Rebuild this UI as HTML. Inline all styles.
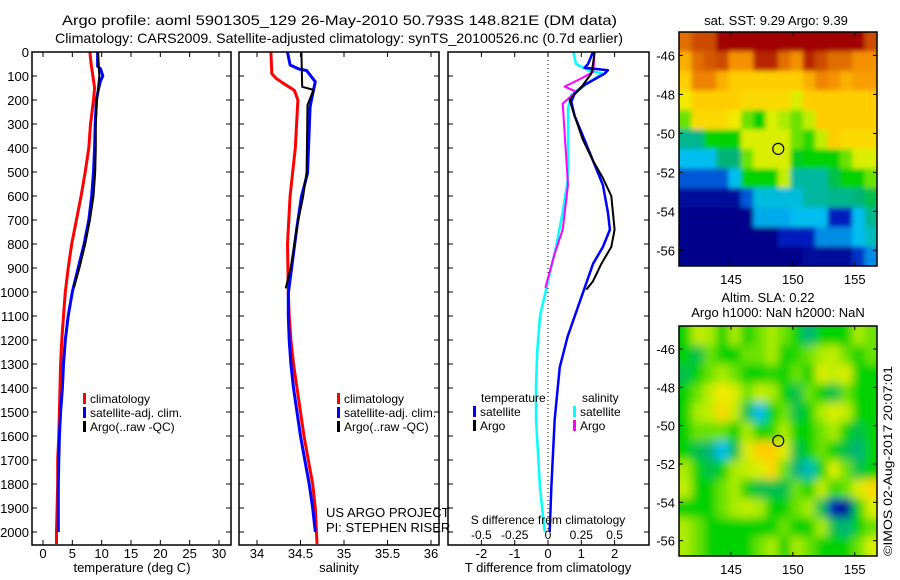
<!DOCTYPE html>
<html><head><meta charset="utf-8"><style>
html,body{margin:0;padding:0;background:#fff}
svg{display:block;font-family:"Liberation Sans",sans-serif}
text{fill:#000}
</style></head><body>
<svg id="fig" width="900" height="580" viewBox="0 0 900 580" xmlns="http://www.w3.org/2000/svg">
<defs>
<filter id="blurA" x="-10%" y="-10%" width="120%" height="120%"><feGaussianBlur stdDeviation="2.5"/></filter>
<filter id="blurB" x="-10%" y="-10%" width="120%" height="120%"><feGaussianBlur stdDeviation="4.5"/></filter>
<clipPath id="clipM1"><rect x="679" y="32" width="198" height="234"/></clipPath>
<clipPath id="clipM2"><rect x="679" y="326" width="198" height="230"/></clipPath>
</defs>
<text x="62" y="25" font-size="14" textLength="555" lengthAdjust="spacingAndGlyphs">Argo profile: aoml 5901305_129 26-May-2010 50.793S 148.821E (DM data)</text>
<text x="55" y="43" font-size="14" textLength="568" lengthAdjust="spacingAndGlyphs">Climatology: CARS2009. Satellite-adjusted climatology: synTS_20100526.nc (0.7d earlier)</text>
<g id="g1"></g>
<g id="g2"></g>
<g id="g3"></g>
<g id="g4"></g>
<g id="g5"></g>
<text transform="translate(892,556) rotate(-90)" font-size="12" textLength="190" lengthAdjust="spacingAndGlyphs">©IMOS 02-Aug-2017 20:07:01</text>
</svg>
<script>
// ---- data ----
const depthTicks=[0,100,200,300,400,500,600,700,800,900,1000,1100,1200,1300,1400,1500,1600,1700,1800,1900,2000];
const tempTicks=[0,5,10,15,20,25,30];
const salTicks=[34,34.5,35,35.5,36];
const salTickLabels=["34","34.5","35","35.5","36"];
const tdiffTicks=[-2,-1,0,1,2];
const sdiffTicks=[-0.5,-0.25,0,0.25,0.5];
const sdiffTickLabels=["-0.5","-0.25","0","0.25","0.5"];
const latTicks=[-46,-48,-50,-52,-54,-56];
const lonTicks=[145,150,155];

const tClimDepth=[0,50,100,150,200,300,400,500,600,700,800,900,1000,1100,1200,1300,1400,1500,1600,1700,1800,1900,2000,2050];
const tClim=[8.0,8.2,8.5,8.8,8.6,8.1,7.8,7.2,6.5,5.7,4.9,4.3,3.8,3.5,3.2,3.0,2.9,2.8,2.7,2.5,2.5,2.4,2.3,2.3];
const tSatDepth=[0,60,70,100,120,150,200,300,400,500,600,700,800,900,1000,1100,1200,1300,1400,1500,1600,1700,1800,1900,2000];
const tSat=[9.3,9.3,9.8,10.2,9.8,9.5,9.1,8.9,8.8,8.6,8.3,7.8,7.0,6.0,5.0,4.3,3.8,3.5,3.3,3.0,2.8,2.7,2.6,2.6,2.6];
const tArgoDepth=[0,100,150,200,300,400,500,600,700,800,900,980];
const tArgo=[9.4,9.6,9.4,9.2,9.0,9.0,8.9,8.6,8.0,7.2,6.2,5.3];

const sClimDepth=[0,90,110,130,160,200,400,600,800,1000,1100,1200,1300,1400,1500,1600,1700,1800,1900,2050];
const sClim=[34.16,34.17,34.22,34.30,34.43,34.47,34.44,34.38,34.35,34.36,34.37,34.39,34.42,34.46,34.50,34.54,34.59,34.64,34.67,34.69];
const sSatDepth=[0,54,71,77,124,158,228,506,603,728,894,1006,1100,1200,1300,1400,1500,1600,1700,1800,1900,2000];
const sSat=[34.35,34.38,34.48,34.57,34.67,34.65,34.61,34.58,34.51,34.46,34.40,34.36,34.36,34.37,34.39,34.42,34.46,34.50,34.55,34.60,34.64,34.67];
const sArgoDepth=[0,145,158,221,500,603,728,894,985];
const sArgo=[34.51,34.52,34.65,34.58,34.57,34.53,34.46,34.39,34.33];

const dTSatDepth=[0,50,66,76,90,137,173,208,266,367,453,554,668,740,812,883,983,1186,1315,1530,1817,2000];
const dTSat=[1.35,1.2,1.1,1.8,1.7,1.1,0.8,0.7,0.8,1.1,1.35,1.65,1.8,1.86,1.65,1.35,1.1,0.59,0.35,0.2,0.1,0.05];
const dTArgoDepth=[0,50,90,137,200,266,367,453,525,600,740,812,883,955,990];
const dTArgo=[1.4,1.35,1.3,1.05,0.65,0.8,1.05,1.35,1.65,1.9,2.0,1.9,1.6,1.35,1.15];
const dSSatDepth=[0,50,75,90,150,180,236,525,668,812,955,1100,1243,1387,1530,1673,1817,2000];
const dSSat=[0.19,0.21,0.3,0.41,0.24,0.175,0.15,0.15,0.11,0.06,0,-0.06,-0.08,-0.09,-0.09,-0.075,-0.06,-0.025];
const dSArgoDepth=[0,83,110,144,165,215,381,554,740,840,983];
const dSArgo=[0.35,0.34,0.25,0.125,0.21,0.11,0.13,0.15,0.11,0.05,-0.02];

const mapLons=[141,142,143,144,145,146,147,148,149,150,151,152,153,154,155,156];
const mapLats=[-45,-46,-47,-48,-49,-50,-51,-52,-53,-54,-55,-56];
const sstGrid=[
[0.85,0.9,0.9,1,1,1,1,1,1,1,1,1,1,1,1,0.9],
[0.75,0.85,0.88,0.9,0.8,0.8,0.95,0.95,0.85,0.8,0.95,0.9,0.85,0.85,0.8,0.8],
[0.7,0.82,0.82,0.75,0.7,0.7,0.7,0.7,0.7,0.7,0.75,0.82,0.8,0.75,0.78,0.78],
[0.65,0.7,0.7,0.7,0.7,0.68,0.68,0.68,0.68,0.62,0.7,0.7,0.7,0.7,0.7,0.7],
[0.55,0.68,0.68,0.68,0.65,0.55,0.5,0.62,0.58,0.55,0.6,0.7,0.7,0.7,0.7,0.7],
[0.4,0.4,0.5,0.5,0.5,0.62,0.62,0.62,0.62,0.55,0.52,0.6,0.7,0.68,0.68,0.68],
[0.3,0.3,0.3,0.42,0.42,0.55,0.62,0.62,0.62,0.48,0.5,0.5,0.5,0.55,0.62,0.62],
[0.2,0.2,0.2,0.2,0.3,0.5,0.5,0.5,0.6,0.38,0.38,0.38,0.45,0.5,0.5,0.55],
[0.05,0.05,0.05,0.05,0.05,0.2,0.32,0.32,0.32,0.32,0.38,0.38,0.4,0.4,0.42,0.45],
[0.02,0.02,0.02,0.02,0.02,0.02,0.28,0.28,0.28,0.3,0.3,0.3,0.12,0.12,0.3,0.4],
[0.02,0.02,0.02,0.02,0.02,0.02,0.02,0.02,0.12,0.12,0.12,0.25,0.25,0.25,0.3,0.35],
[0.02,0.02,0.02,0.02,0.02,0.02,0.02,0.02,0.02,0.02,0.05,0.05,0.05,0.05,0.15,0.25]];
const slaGrid=[
[0.5,0.6,0.58,0.5,0.58,0.5,0.55,0.58,0.55,0.5,0.42,0.5,0.5,0.5,0.58,0.55],
[0.5,0.45,0.55,0.5,0.5,0.55,0.55,0.58,0.5,0.52,0.55,0.58,0.6,0.55,0.5,0.55],
[0.45,0.5,0.55,0.58,0.55,0.5,0.5,0.52,0.5,0.55,0.5,0.62,0.6,0.62,0.5,0.5],
[0.5,0.55,0.6,0.65,0.62,0.55,0.6,0.58,0.5,0.45,0.55,0.5,0.45,0.55,0.5,0.5],
[0.5,0.58,0.6,0.68,0.6,0.45,0.3,0.5,0.55,0.45,0.5,0.58,0.62,0.6,0.5,0.5],
[0.5,0.55,0.55,0.55,0.5,0.58,0.5,0.52,0.58,0.5,0.5,0.55,0.58,0.5,0.45,0.5],
[0.5,0.45,0.42,0.3,0.45,0.62,0.7,0.7,0.62,0.45,0.5,0.55,0.5,0.45,0.42,0.5],
[0.58,0.5,0.45,0.5,0.58,0.6,0.62,0.68,0.55,0.42,0.35,0.5,0.62,0.55,0.45,0.5],
[0.6,0.5,0.5,0.55,0.58,0.5,0.45,0.45,0.45,0.55,0.5,0.6,0.52,0.55,0.62,0.68],
[0.5,0.5,0.5,0.55,0.58,0.6,0.58,0.5,0.5,0.55,0.58,0.45,0.1,0.05,0.5,0.62],
[0.58,0.55,0.5,0.5,0.5,0.5,0.5,0.5,0.55,0.5,0.5,0.58,0.45,0.42,0.5,0.55],
[0.58,0.55,0.5,0.5,0.5,0.5,0.55,0.58,0.5,0.58,0.55,0.5,0.5,0.5,0.55,0.62]];
const argoLon=148.821, argoLat=-50.793;

// ---- helpers ----
const NS="http://www.w3.org/2000/svg";
function mk(parent,tag,attrs){const e=document.createElementNS(NS,tag);for(const k in attrs)e.setAttribute(k,attrs[k]);parent.appendChild(e);return e;}
function lin(d0,d1,r0,r1){return v=>r0+(v-d0)*(r1-r0)/(d1-d0);}
const yD=lin(0,2000,52,532);
const PT=545, PTOP=52;

function frame(g,x0,x1,y0,y1){const r=mk(g,'rect',{x:x0,y:y0,width:x1-x0,height:y1-y0,fill:'none',stroke:'#000','stroke-width':1.5});}
function yTicks(g,x0,x1,labels){depthTicks.forEach(d=>{const y=yD(d);
 mk(g,'line',{x1:x0,x2:x0+5,y1:y,y2:y,stroke:'#000'});mk(g,'line',{x1:x1-5,x2:x1,y1:y,y2:y,stroke:'#000'});
 if(labels){const t=mk(g,'text',{x:x0-3,y:y+5,'font-size':13,'text-anchor':'end'});t.textContent=d;}});}
function xTicks(g,vals,labs,sx,y0,y1,ly){vals.forEach((v,i)=>{const x=sx(v);
 mk(g,'line',{x1:x,x2:x,y1:y1,y2:y1-5,stroke:'#000'});mk(g,'line',{x1:x,x2:x,y1:y0,y2:y0+5,stroke:'#000'});
 if(ly){const t=mk(g,'text',{x:x,y:ly,'font-size':13,'text-anchor':'middle'});t.textContent=labs[i];}});}
function line(g,xs,ds,sx,color,w,name){const p=xs.map((v,i)=>sx(v).toFixed(1)+','+yD(ds[i]).toFixed(1)).join(' ');
 const e=mk(g,'polyline',{points:p,fill:'none',stroke:color,'stroke-width':w,'stroke-linejoin':'round'});}
function txt(g,x,y,s,name,size,anchor){const t=mk(g,'text',{x:x,y:y,'font-size':size||13,'text-anchor':anchor||'start'});t.textContent=s;return t;}
function legend(g,x,y,color,label){const r=mk(g,'rect',{x:x,y:y-10,width:3,height:11,fill:color});txt(g,x+7,y,label,'legend-entry',12);}

// ---- panel 1 ----
(function(){const g=document.getElementById('g1');const sx=lin(0,30,43,219);
 line(g,tClim,tClimDepth,sx,'#ff0000',3,'climatology-temp-line');
 line(g,tSat,tSatDepth,sx,'#0000ff',3,'satellite-temp-line');
 line(g,tArgo,tArgoDepth,sx,'#000',2,'argo-temp-line');
 frame(g,32,231,PTOP,PT);yTicks(g,32,231,true);xTicks(g,tempTicks,tempTicks.map(String),sx,PTOP,PT,558);
 txt(g,132,572,'temperature (deg C)','x-axis-title',13,'middle');
 legend(g,83,403,'#ff0000','climatology');legend(g,83,417,'#0000ff','satellite-adj. clim.');legend(g,83,431,'#000','Argo(..raw -QC)');})();
// ---- panel 2 ----
(function(){const g=document.getElementById('g2');const sx=lin(34,36,257,431);
 line(g,sClim,sClimDepth,sx,'#ff0000',3,'climatology-salinity-line');
 line(g,sSat,sSatDepth,sx,'#0000ff',3,'satellite-salinity-line');
 line(g,sArgo,sArgoDepth,sx,'#000',2,'argo-salinity-line');
 frame(g,239,439,PTOP,PT);yTicks(g,239,439,false);xTicks(g,salTicks,salTickLabels,sx,PTOP,PT,558);
 txt(g,339,572,'salinity','x-axis-title',13,'middle');
 legend(g,337,403,'#ff0000','climatology');legend(g,337,417,'#0000ff','satellite-adj. clim.');legend(g,337,431,'#000','Argo(..raw -QC)');
 txt(g,326,517,'US ARGO PROJECT','credit-project',13);txt(g,326,532,'PI: STEPHEN RISER','credit-pi',13);})();
// ---- panel 3 ----
(function(){const g=document.getElementById('g3');const sx=lin(0,1,548,581.3);const ss=lin(0,0.25,548,581.3);
 const z=mk(g,'line',{x1:548,x2:548,y1:PTOP,y2:530,stroke:'#000','stroke-dasharray':'1,3'});
 line(g,dSSat,dSSatDepth,ss,'#00ffff',2.5,'salinity-satellite-diff-line');
 line(g,dSArgo,dSArgoDepth,ss,'#ff00ff',2,'salinity-argo-diff-line');
 line(g,dTSat,dTSatDepth,sx,'#0000ff',2.5,'temperature-satellite-diff-line');
 line(g,dTArgo,dTArgoDepth,sx,'#000',2,'temperature-argo-diff-line');
 frame(g,448,649,PTOP,PT);yTicks(g,448,649,false);xTicks(g,tdiffTicks,tdiffTicks.map(String),sx,PTOP,PT,558);
 sdiffTicks.forEach((v,i)=>txt(g,ss(v),539,sdiffTickLabels[i],'s-tick-label',12,'middle'));
 txt(g,548,524,'S difference from climatology','s-axis-title',12,'middle');
 txt(g,548,572,'T difference from climatology','x-axis-title',13,'middle');
 txt(g,481,402,'temperature','legend-heading',12);txt(g,582,402,'salinity','legend-heading',12);
 legend(g,473,416,'#0000ff','satellite');legend(g,473,430,'#000','Argo');
 legend(g,573,416,'#00ffff','satellite');legend(g,573,430,'#ff00ff','Argo');})();
// ---- maps ----
const cmapStops=[[0,[0,0,128]],[0.12,[0,30,190]],[0.2,[0,90,215]],[0.3,[0,190,240]],[0.42,[0,180,120]],[0.5,[0,210,0]],[0.58,[170,235,0]],[0.64,[240,240,0]],[0.7,[255,205,0]],[0.8,[245,145,0]],[0.9,[205,75,0]],[1,[160,0,0]]];
function cmap(v){v=Math.max(0,Math.min(1,v));for(let i=1;i<cmapStops.length;i++){const a=cmapStops[i-1],b=cmapStops[i];
 if(v<=b[0]){const t=(v-a[0])/(b[0]-a[0]);return 'rgb('+a[1].map((c,k)=>Math.round(c+(b[1][k]-c)*t)).join(',')+')';}}return 'rgb(160,0,0)';}
function drawMap(gid,grid,top,bottom,clip,filt,titles){const g=document.getElementById(gid);
 const sx=lin(140.8,156.8,679,877),sy=lin(-44.8,-56.8,top,bottom);
 const cg=mk(g,'g',{'clip-path':'url(#'+clip+')'});const hg=mk(cg,'g',{filter:'url(#'+filt+')'});
 grid.forEach((row,i)=>row.forEach((v,j)=>{const x0=sx(mapLons[j]-0.2),x1=sx(mapLons[j]+0.8),y0=sy(mapLats[i]+0.2),y1=sy(mapLats[i]-0.8);
  const xa=j===0?sx(138):x0,xb=j===row.length-1?sx(159):x1,ya=i===0?sy(-42):y0,yb=i===grid.length-1?sy(-59):y1;
  const c=mk(hg,'rect',{x:xa.toFixed(1),y:ya.toFixed(1),width:(xb-xa+0.6).toFixed(1),height:(yb-ya+0.6).toFixed(1),fill:cmap(v)});
  }));
 const fr=mk(g,'rect',{x:679,y:top,width:198,height:bottom-top,fill:'none',stroke:'#000','stroke-width':1.5});
 latTicks.forEach(l=>{const y=sy(l);mk(g,'line',{x1:679,x2:683,y1:y,y2:y,stroke:'#000'});mk(g,'line',{x1:873,x2:877,y1:y,y2:y,stroke:'#000'});txt(g,675,y+5,String(l),'lat-tick-label',13,'end');});
 lonTicks.forEach(l=>{const x=sx(l);mk(g,'line',{x1:x,x2:x,y1:top,y2:top+4,stroke:'#000'});mk(g,'line',{x1:x,x2:x,y1:bottom,y2:bottom-4,stroke:'#000'});txt(g,x,bottom+18,String(l),'lon-tick-label',13,'middle');});
 const c=mk(g,'circle',{cx:sx(argoLon),cy:sy(argoLat),r:5.5,fill:'none',stroke:'#000','stroke-width':1.2});
 titles.forEach(t=>txt(g,t[0],t[1],t[2],'map-title',13,'middle'));}
drawMap('g4',sstGrid,32,266,'clipM1','blurA',[[776,25,'sat. SST: 9.29 Argo: 9.39']]);
drawMap('g5',slaGrid,326,556,'clipM2','blurB',[[768,302,'Altim. SLA: 0.22'],[778,317,'Argo h1000: NaN h2000: NaN']]);
</script>
</body></html>
